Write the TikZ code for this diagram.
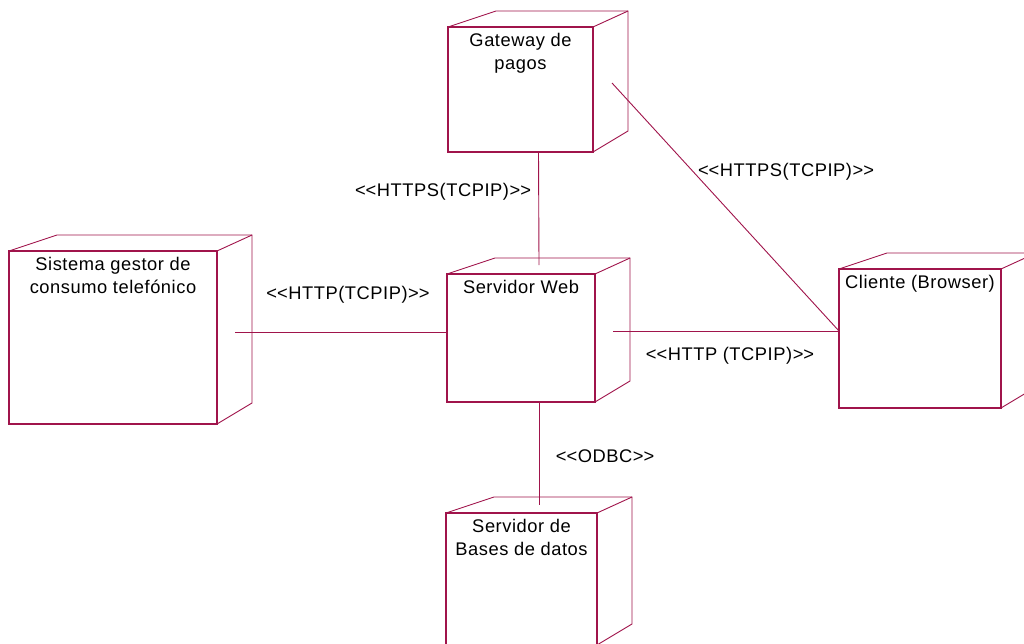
\documentclass[tikz,border=0pt]{standalone}
\usepackage{fontspec}
\setmainfont{Liberation Sans}[LetterSpace=3]
\usetikzlibrary{calc}
\definecolor{rose}{RGB}{160,20,75}
\newcommand\dlt{<\kern0pt<}
\newcommand\dgt{>\kern0pt>}
\newcommand\nodefaces[1]{%
  \draw[face] (#1.north west) -- ++(48,-16) -- ([shift={(35,-16)}]#1.north east)
    -- ([shift={(35,-21)}]#1.south east) -- (#1.south east);
  \draw[face] (#1.north east) -- ++(35,-16);}
\begin{document}
\begin{tikzpicture}[x=1pt,y=-1pt,
  every node/.style={inner sep=0pt, outer sep=0pt},
  dep/.style={draw=rose, line width=1.2pt, rectangle, anchor=north west},
  nodecap/.style={font=\fontsize{18.3}{23}\selectfont, align=center, text=black, anchor=north, yshift=-6pt},
  lbl/.style={font=\fontsize{18.3}{22}\selectfont, text=black},
  face/.style={draw=rose, line width=0.9pt, line join=miter},
  conn/.style={draw=rose, line width=0.9pt}]
\useasboundingbox (0,0) rectangle (1024,643);
\clip (0,0) rectangle (1024,643);
\fill[white] (0,0) rectangle (1024,643);

% deployment nodes
\node[dep, minimum width=145pt, minimum height=125pt,
  label={[nodecap]north:{Gateway de\\pagos}}] (gw) at (448,27) {};
\node[dep, minimum width=208pt, minimum height=173pt,
  label={[nodecap]north:{Sistema gestor de\\consumo telefónico}}] (sis) at (9,251) {};
\node[dep, minimum width=148pt, minimum height=128pt,
  label={[nodecap]north:{Servidor Web}}] (web) at (447,274) {};
\node[dep, minimum width=162pt, minimum height=139pt,
  label={[nodecap]north:{Cliente (Browser)}}] (cli) at (839,269) {};
\node[dep, minimum width=151pt, minimum height=132pt,
  label={[nodecap]north:{Servidor de\\Bases de datos}}] (bd) at (446,513) {};

\nodefaces{gw}
\nodefaces{sis}
\nodefaces{web}
\nodefaces{cli}
\nodefaces{bd}

% connectors
\draw[conn] ([xshift=18pt]gw.south) -- ([shift={(18,-9)}]web.north);
\draw[conn] ([xshift=18pt]web.south) -- ([shift={(17.5,-8)}]bd.north);
\draw[conn] ([shift={(18,-5.5)}]sis.east) -- ([shift={(0,-6)}]web.west);
\draw[conn] ([shift={(18,-7)}]web.east) -- ([shift={(0,-7.5)}]cli.west);
\draw[conn] ([shift={(19,-6.5)}]gw.east) -- ([shift={(0,-7.5)}]cli.west);

% connector labels
\node[lbl] (l1) at (443,192) {\dlt HTTPS(TCPIP)\dgt};
\node[lbl] (l2) at (786,172) {\dlt HTTPS(TCPIP)\dgt};
\node[lbl] (l3) at (348,295) {\dlt HTTP(TCPIP)\dgt};
\node[lbl] (l4) at (730,356) {\dlt HTTP (TCPIP)\dgt};
\node[lbl] (l5) at (605,456) {\dlt ODBC\dgt};
\end{tikzpicture}
\end{document}
